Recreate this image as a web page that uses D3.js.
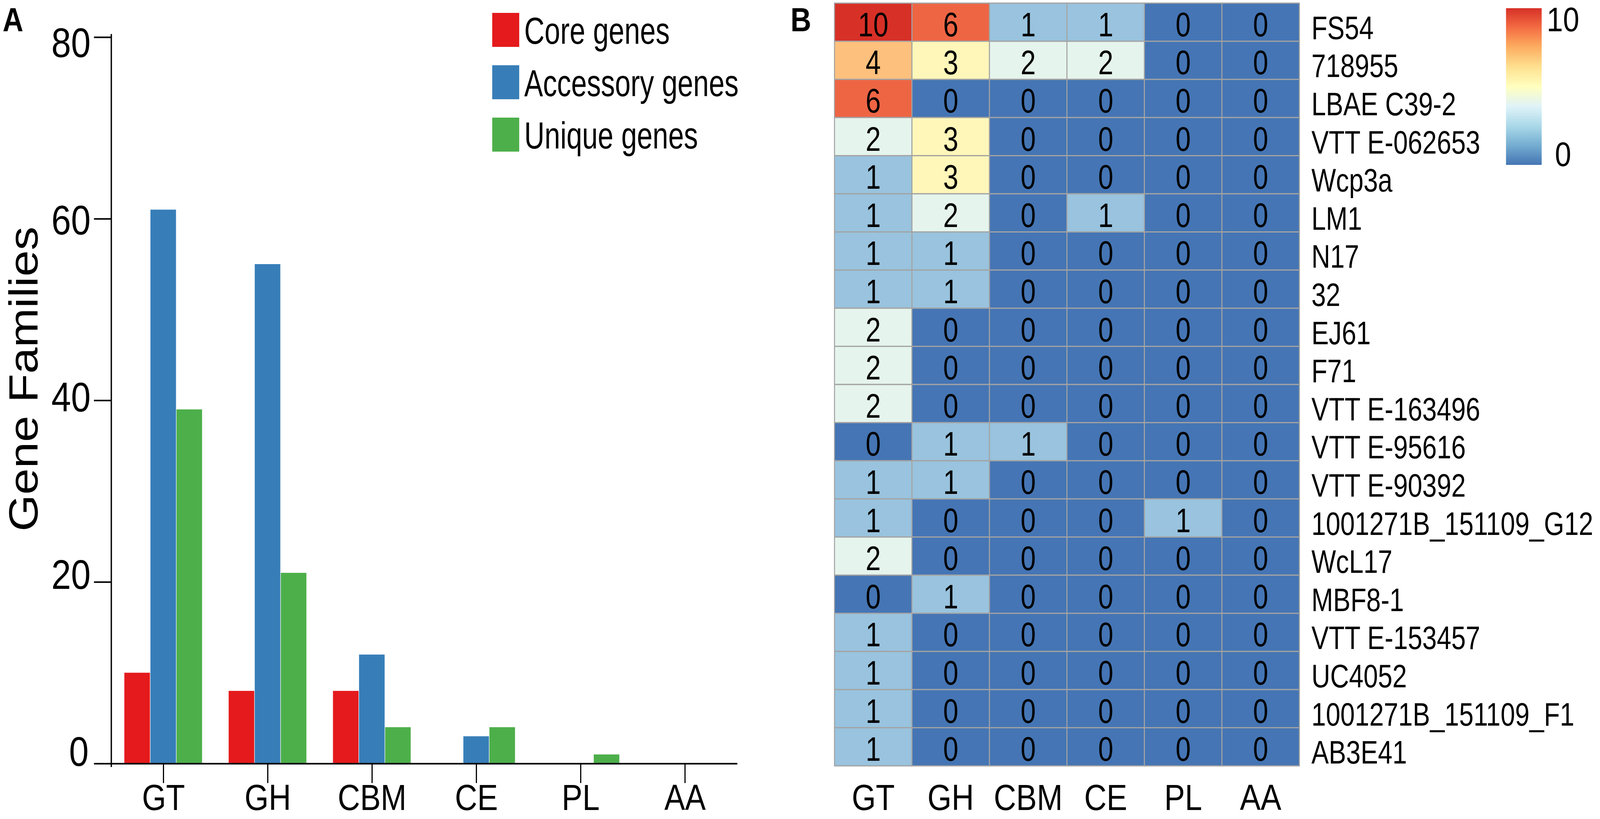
<!DOCTYPE html>
<html>
<head>
<meta charset="utf-8">
<script src="https://cdn.jsdelivr.net/npm/d3@7"></script>
<style>
  html, body { margin: 0; padding: 0; background: #fff; overflow: hidden; }
  #chart svg { display: block; width: 100vw; height: 100vh; }
  text { font-family: "Liberation Sans", Arial, Helvetica, sans-serif; fill: #000; }
</style>
</head>
<body>
<div id="chart"></div>
<script>
// Panel A: gene families per CAZy class
const classes = ["GT", "GH", "CBM", "CE", "PL", "AA"];
const seriesNames = ["Core genes", "Accessory genes", "Unique genes"];
const coreGenes = [10, 8, 8, 0, 0, 0];
const accessoryGenes = [61, 55, 12, 3, 0, 0];
const uniqueGenes = [39, 21, 4, 4, 1, 0];
const yTicks = [0, 20, 40, 60, 80];

// Panel B: unique CAZy genes per strain
const strains = [
  "FS54", "718955", "LBAE C39-2", "VTT E-062653", "Wcp3a", "LM1", "N17", "32",
  "EJ61", "F71", "VTT E-163496", "VTT E-95616", "VTT E-90392",
  "1001271B_151109_G12", "WcL17", "MBF8-1", "VTT E-153457", "UC4052",
  "1001271B_151109_F1", "AB3E41"
];
const heatValues = [
  [10, 6, 1, 1, 0, 0],
  [4, 3, 2, 2, 0, 0],
  [6, 0, 0, 0, 0, 0],
  [2, 3, 0, 0, 0, 0],
  [1, 3, 0, 0, 0, 0],
  [1, 2, 0, 1, 0, 0],
  [1, 1, 0, 0, 0, 0],
  [1, 1, 0, 0, 0, 0],
  [2, 0, 0, 0, 0, 0],
  [2, 0, 0, 0, 0, 0],
  [2, 0, 0, 0, 0, 0],
  [0, 1, 1, 0, 0, 0],
  [1, 1, 0, 0, 0, 0],
  [1, 0, 0, 0, 1, 0],
  [2, 0, 0, 0, 0, 0],
  [0, 1, 0, 0, 0, 0],
  [1, 0, 0, 0, 0, 0],
  [1, 0, 0, 0, 0, 0],
  [1, 0, 0, 0, 0, 0],
  [1, 0, 0, 0, 0, 0]
];
const legendTicks = [0, 10];

const width = 4801, height = 2096;

// fixed drawing size, stretched to fill the window like the original frame
const svg = d3.select("#chart")
  .append("svg")
  .attr("viewBox", `0 0 ${width} ${height}`)
  .attr("preserveAspectRatio", "none");

svg.append("rect").attr("width", width).attr("height", height).attr("fill", "#fff");

// helper: text squeezed a little horizontally, like the original
function label(g, x, y, str, size, sx, anchor) {
  return g.append("text")
    .attr("transform", `translate(${x},${y}) scale(${sx},1)`)
    .attr("text-anchor", anchor || "start")
    .attr("font-size", size)
    .text(str);
}

const bottomLabelY = 2073; // baseline of the category labels under both panels

// ---------------- Panel A ----------------
const plotA = { left: 334, right: 2212, top: 95, bottom: 1954 };

const x0 = d3.scaleBand()
  .domain(classes)
  .range([plotA.left, plotA.right])
  .paddingInner(0.25)
  .paddingOuter(0.125);

const x1 = d3.scaleBand()
  .domain(seriesNames)
  .range([0, x0.bandwidth()]);

const y = d3.scaleLinear().domain([0, 80]).range([plotA.bottom, plotA.top]);

const barColor = d3.scaleOrdinal()
  .domain(seriesNames)
  .range(["#e41a1c", "#377eb8", "#4daf4a"]);

const groups = classes.map((c, i) => ({
  cls: c,
  values: [coreGenes[i], accessoryGenes[i], uniqueGenes[i]]
}));

const gA = svg.append("g");

gA.selectAll(".group")
  .data(groups)
  .enter()
  .append("g")
  .attr("class", "group")
  .attr("transform", (d) => `translate(${x0(d.cls)},0)`)
  .selectAll("rect")
  .data((d) => d.values.map((v, k) => ({ key: seriesNames[k], value: v })).filter((e) => e.value > 0))
  .enter()
  .append("rect")
  .attr("x", (d) => x1(d.key))
  .attr("y", (d) => y(d.value))
  .attr("width", x1.bandwidth() - 1.5)
  .attr("height", (d) => y(0) - y(d.value))
  .attr("fill", (d) => barColor(d.key));

// Y axis (ticks only, the line is drawn a bit longer by hand)
gA.append("g")
  .attr("transform", `translate(${plotA.left},0)`)
  .call(d3.axisLeft(y).tickValues(yTicks).tickSize(52).tickFormat(""))
  .call((g) => g.select(".domain").remove())
  .call((g) => g.selectAll(".tick line").attr("stroke", "#000").attr("stroke-width", 4));

gA.append("line")
  .attr("x1", plotA.left).attr("x2", plotA.left)
  .attr("y1", y(80) - 8).attr("y2", y(0) + 9)
  .attr("stroke", "#000").attr("stroke-width", 4);

// tick labels in the original sit on a slightly compressed scale
const yLabel = d3.scaleLinear().domain([0, 80]).range([1922, 108]);
gA.selectAll(".ylab")
  .data(yTicks)
  .enter()
  .append("text")
  .attr("class", "ylab")
  .attr("x", (d) => (d === 0 ? 266 : 272))
  .attr("y", (d) => yLabel(d))
  .attr("dy", "0.36em")
  .attr("text-anchor", "end")
  .attr("font-size", 106)
  .text((d) => d);

// X axis
gA.append("g")
  .attr("transform", `translate(0,${plotA.bottom})`)
  .call(d3.axisBottom(x0).tickSize(50).tickSizeOuter(0))
  .call((g) => g.select(".domain").attr("stroke-width", 4))
  .call((g) => g.selectAll(".tick line").attr("stroke-width", 3.5))
  .call((g) => g.selectAll(".tick text")
    .attr("y", bottomLabelY - plotA.bottom)
    .attr("dy", null)
    .attr("font-size", 93)
    .attr("font-family", "'Liberation Sans', Arial, sans-serif")
    .attr("fill", "#000"));

// Y title
gA.append("text")
  .attr("transform", "translate(112,970) rotate(-90)")
  .attr("text-anchor", "middle")
  .attr("font-size", 121)
  .text("Gene Families");

// Legend
const legend = gA.append("g").attr("transform", "translate(1477,33)");
seriesNames.forEach((name, i) => {
  legend.append("rect")
    .attr("x", 0)
    .attr("y", i * 134)
    .attr("width", 81)
    .attr("height", 87)
    .attr("fill", barColor(name));
  label(legend, 96, i * 134 + 79, name, 96, 0.88);
});

// panel letter
gA.append("text")
  .attr("x", 8).attr("y", 80)
  .attr("font-size", 86)
  .attr("font-weight", "bold")
  .text("A");

// ---------------- Panel B ----------------
const plotB = { left: 2504, right: 3899, top: 8, bottom: 1960 };

const xh = d3.scaleBand().domain(classes).range([plotB.left, plotB.right]);
const yh = d3.scaleBand().domain(strains).range([plotB.top, plotB.bottom]);

const cellColor = d3.scaleLinear()
  .domain([0, 1, 2, 3, 4, 6, 10])
  .range(["#4575b4", "#99c3de", "#e5f4ec", "#fff7b9", "#fdc07d", "#ee6544", "#d73027"]);

const cells = [];
strains.forEach((s, r) => {
  classes.forEach((c, k) => {
    cells.push({ strain: s, cls: c, value: heatValues[r][k] });
  });
});

const gB = svg.append("g");

gB.selectAll(".cell")
  .data(cells)
  .enter()
  .append("rect")
  .attr("class", "cell")
  .attr("x", (d) => xh(d.cls))
  .attr("y", (d) => yh(d.strain))
  .attr("width", xh.bandwidth())
  .attr("height", yh.bandwidth())
  .attr("fill", (d) => cellColor(d.value))
  .attr("stroke", "#a3a3a3")
  .attr("stroke-width", 3);

cells.forEach((d) => {
  label(gB, xh(d.cls) + xh.bandwidth() / 2, yh(d.strain) + yh.bandwidth() / 2 + 36,
    d.value, 88, 0.93, "middle");
});

// row labels
strains.forEach((s) => {
  label(gB, plotB.right + 36, yh(s) + yh.bandwidth() / 2 + 43, s, 84, 0.93);
});

// column labels
classes.forEach((c) => {
  label(gB, xh(c) + xh.bandwidth() / 2, bottomLabelY, c, 93, 1, "middle");
});

// colour legend
const defs = svg.append("defs");
const grad = defs.append("linearGradient")
  .attr("id", "heatGrad")
  .attr("x1", 0).attr("y1", 0).attr("x2", 0).attr("y2", 1);
const stops = d3.schemeRdYlBu[9];
stops.forEach((col, i) => {
  grad.append("stop")
    .attr("offset", i / (stops.length - 1))
    .attr("stop-color", col);
});

const bar = { x: 4519, y: 21, w: 107, h: 401 };
gB.append("rect")
  .attr("x", bar.x).attr("y", bar.y)
  .attr("width", bar.w).attr("height", bar.h)
  .attr("fill", "url(#heatGrad)");

const legendY = d3.scaleLinear().domain([0, 10]).range([bar.y + bar.h - 29, bar.y + 27]);
gB.selectAll(".leglab")
  .data(legendTicks)
  .enter()
  .append("text")
  .attr("class", "leglab")
  .attr("x", 4690)
  .attr("y", (d) => legendY(d))
  .attr("dy", "0.36em")
  .attr("text-anchor", "middle")
  .attr("font-size", 88)
  .text((d) => d);

gB.append("text")
  .attr("x", 2372).attr("y", 80)
  .attr("font-size", 86)
  .attr("font-weight", "bold")
  .text("B");
</script>
</body>
</html>
